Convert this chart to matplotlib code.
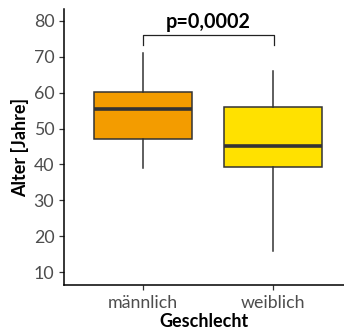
import matplotlib
matplotlib.use("Agg")
import matplotlib.pyplot as plt

categories = ["männlich", "weiblich"]
whisker_low = [39, 16]
q1 = [47.0, 39.2]
median = [55.5, 45.0]
q3 = [60.2, 56.0]
whisker_high = [71, 66]
colors = ["#F39C00", "#FFE100"]
p_text = "p=0,0002"
yticks = [10, 20, 30, 40, 50, 60, 70, 80]

plt.rcParams['font.family'] = ['Lato', 'DejaVu Sans']

fig = plt.figure(figsize=(3.44, 3.33), dpi=100)
ax = fig.add_axes([64/344, 48/333, 280/344, 276/333])

stats = []
for i, c in enumerate(categories):
    stats.append(dict(med=median[i], q1=q1[i], q3=q3[i], whislo=whisker_low[i],
                      whishi=whisker_high[i], fliers=[], label=c))
edge = "#333333"
bp = ax.bxp(stats, positions=[1, 2], widths=0.75, patch_artist=True,
            showcaps=False,
            boxprops=dict(edgecolor=edge, linewidth=1.1),
            whiskerprops=dict(color=edge, linewidth=1.1),
            medianprops=dict(color=edge, linewidth=2.6))
for patch, col in zip(bp['boxes'], colors):
    patch.set_facecolor(col)

# significance bracket
ax.plot([1, 1, 2.01, 2.01], [73.3, 76.1, 76.1, 73.3], color="#222222", lw=0.9, clip_on=False)
ax.text(1.505, 79.7, p_text, ha="center", va="center", fontsize=14.2, fontweight="bold")

ax.set_xlim(0.392, 2.546)
ax.set_ylim(6.4, 83.3)
ax.set_yticks(yticks)
ax.set_xticks([1, 2])
ax.set_xticklabels(categories)
ax.tick_params(axis='both', colors="#333333", labelcolor="#4D4D4D", labelsize=12.8, length=3.5, width=0.9)
ax.tick_params(axis='x', pad=4)
for s in ["top", "right"]:
    ax.spines[s].set_visible(False)
for s in ["left", "bottom"]:
    ax.spines[s].set_linewidth(1.1)
    ax.spines[s].set_color("black")
ax.set_ylabel("Alter [Jahre]", fontsize=13, fontweight="bold", labelpad=3)
ax.set_xlabel("Geschlecht", fontsize=13, fontweight="bold", labelpad=1)

fig.savefig("out.png", dpi=100)
